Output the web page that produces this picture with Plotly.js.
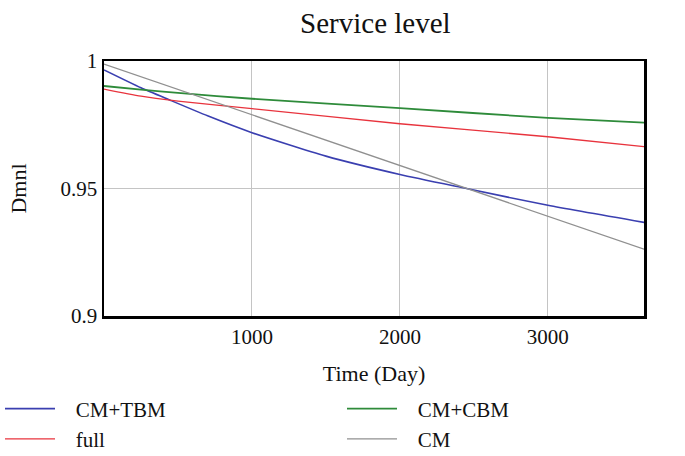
<!DOCTYPE html>
<html>
<head>
<meta charset="utf-8">
<script src="https://cdn.plot.ly/plotly-3.0.1.min.js"></script>
<style>html,body{margin:0;padding:0;background:#fff;}#chart{width:685px;height:456px;}</style>
</head>
<body>
<div id="chart"></div>
<script>
// Time (Day)
const timeCMTBM = [0, 250, 440, 700, 1000, 1500, 2000, 2450, 3000, 3650];
const valCMTBM  = [0.9965, 0.9895, 0.9848, 0.9785, 0.9719, 0.9627, 0.9555, 0.9500, 0.9434, 0.9367];

const timeCMCBM = [0, 250, 500, 1000, 2000, 3000, 3650];
const valCMCBM  = [0.9902, 0.9888, 0.9875, 0.9852, 0.9815, 0.9777, 0.9758];

const timeFull = [0, 250, 500, 1000, 2000, 3000, 3650];
const valFull  = [0.9890, 0.9862, 0.9843, 0.9813, 0.9754, 0.9703, 0.9664];

const timeCM = [0, 3650];
const valCM  = [0.9988, 0.9262];

const xTicks = [1000, 2000, 3000];
const yTicks = [0.9, 0.95, 1];
const yTickLabels = ['0.9', '0.95', '1'];

const FONT = 'Liberation Serif, Times New Roman, serif';
const PAD = '\u00a0\u00a0\u00a0';

const traces = [
  {x: timeCMTBM, y: valCMTBM, name: PAD + 'CM+TBM', legend: 'legend', mode: 'lines', line: {color: '#3a3fb0', width: 1.6}},
  {x: timeFull, y: valFull, name: PAD + 'full', legend: 'legend', mode: 'lines', line: {color: '#e8333d', width: 1.3}},
  {x: timeCMCBM, y: valCMCBM, name: PAD + 'CM+CBM', legend: 'legend2', mode: 'lines', line: {color: '#2e8b3a', width: 1.8}},
  {x: timeCM, y: valCM, name: PAD + 'CM', legend: 'legend2', mode: 'lines', line: {color: '#909090', width: 1.3}}
];
traces.forEach(t => { t.line.shape = 'spline'; t.line.smoothing = 0.6; });

const legendBase = {
  orientation: 'h', xref: 'container', yref: 'container', xanchor: 'left', y: 0.148, yanchor: 'top',
  entrywidth: 300, entrywidthmode: 'pixels',
  font: {family: FONT, size: 21, color: '#111'}, traceorder: 'normal',
  bgcolor: 'rgba(0,0,0,0)', tracegroupgap: 0, itemwidth: 50
};

const layout = {
  width: 685, height: 456,
  margin: {l: 104, r: 41, t: 61, b: 140},
  paper_bgcolor: '#fff', plot_bgcolor: '#fff',
  font: {family: FONT, size: 21, color: '#111'},
  title: {text: 'Service level', font: {family: FONT, size: 29, color: '#111'}, x: 0.548, xanchor: 'center', y: 0.95, yanchor: 'middle'},
  xaxis: {
    range: [0, 3650], tickvals: xTicks, ticks: '', showgrid: true, gridcolor: '#c4c4c4', gridwidth: 1,
    zeroline: false, showline: true, mirror: true, linecolor: '#000', linewidth: 2.5,
    tickfont: {family: FONT, size: 21}, tickangle: 0, automargin: false,
    title: {text: 'Time (Day)', font: {family: FONT, size: 22}, standoff: 18}
  },
  yaxis: {
    range: [0.9, 1], tickvals: yTicks, ticktext: yTickLabels, ticks: '', showgrid: true, gridcolor: '#c4c4c4', gridwidth: 1,
    zeroline: false, showline: true, mirror: true, linecolor: '#000', linewidth: 2.5,
    tickfont: {family: FONT, size: 21}, automargin: false,
    title: {text: 'Dmnl', font: {family: FONT, size: 22}, standoff: 28}
  },
  showlegend: true,
  legend: Object.assign({}, legendBase, {x: 0}),
  legend2: Object.assign({}, legendBase, {x: 342 / 685})
};

Plotly.newPlot('chart', traces, layout, {displayModeBar: false, staticPlot: true});
</script>
</body>
</html>
